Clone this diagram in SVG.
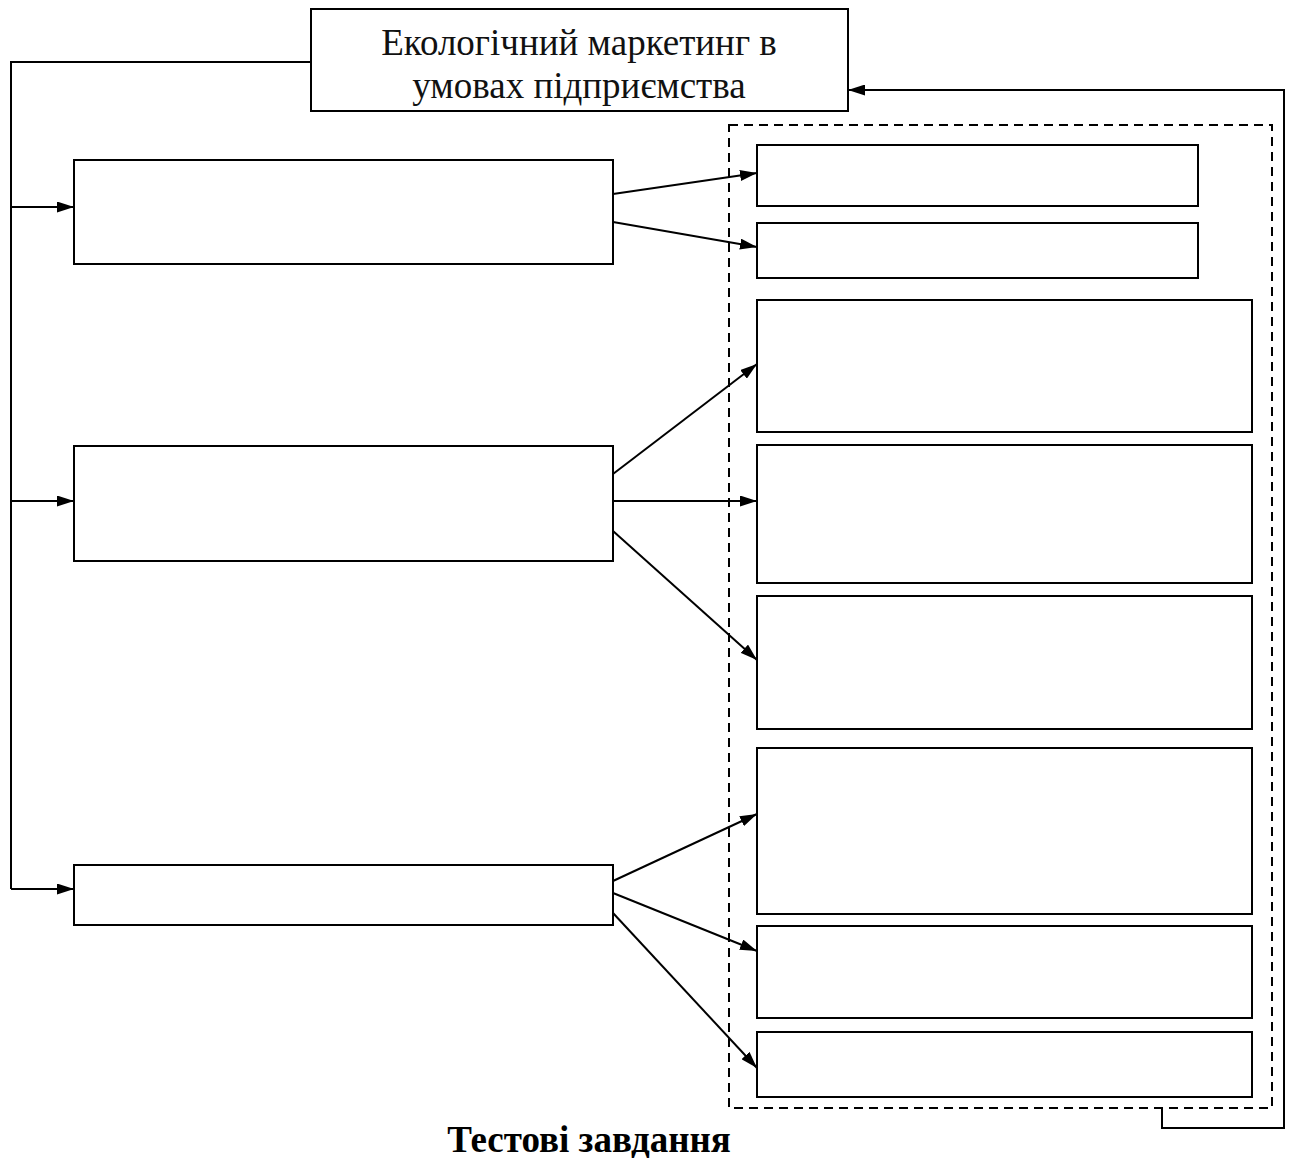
<svg xmlns="http://www.w3.org/2000/svg" width="1292" height="1158" viewBox="0 0 1292 1158">
<style>
.box{fill:#fff;stroke:#000;stroke-width:2}
.ln{fill:none;stroke:#000;stroke-width:2}
.dash{fill:none;stroke:#000;stroke-width:2;stroke-dasharray:9,6}
.t{font-family:"Liberation Serif",serif;font-size:37px;fill:#111;text-anchor:middle}
.tb{font-family:"Liberation Serif",serif;font-size:37px;font-weight:bold;fill:#000;text-anchor:middle}
</style>
<defs>
<marker id="ah" viewBox="0 0 17 11" refX="17" refY="5.5" markerWidth="17" markerHeight="11" markerUnits="userSpaceOnUse" orient="auto">
<path d="M0,0 L17,5.5 L0,11 Z" fill="#000"/>
</marker>
</defs>
<g id="container">
<rect class="dash" x="729" y="125" width="543" height="983"/>
</g>
<g id="top">
<rect class="box" x="311" y="9" width="537" height="102"/>
<text class="t" x="579" y="55">Екологічний маркетинг в</text>
<text class="t" x="579" y="98">умовах підприємства</text>
</g>
<g id="L1"><rect class="box" x="74" y="160" width="539" height="104"/></g>
<g id="L2"><rect class="box" x="74" y="446" width="539" height="115"/></g>
<g id="L3"><rect class="box" x="74" y="865" width="539" height="60"/></g>
<g id="R1"><rect class="box" x="757" y="145" width="441" height="61"/></g>
<g id="R2"><rect class="box" x="757" y="223" width="441" height="55"/></g>
<g id="R3"><rect class="box" x="757" y="300" width="495" height="132"/></g>
<g id="R4"><rect class="box" x="757" y="445" width="495" height="138"/></g>
<g id="R5"><rect class="box" x="757" y="596" width="495" height="133"/></g>
<g id="R6"><rect class="box" x="757" y="748" width="495" height="166"/></g>
<g id="R7"><rect class="box" x="757" y="926" width="495" height="92"/></g>
<g id="R8"><rect class="box" x="757" y="1032" width="495" height="65"/></g>
<g id="title"><text class="tb" x="589" y="1152">Тестові завдання</text></g>
<g id="connectors">
<polyline class="ln" points="311,62 11,62 11,889"/>
<line class="ln" x1="11" y1="207" x2="74" y2="207" marker-end="url(#ah)"/>
<line class="ln" x1="11" y1="501" x2="74" y2="501" marker-end="url(#ah)"/>
<line class="ln" x1="11" y1="889" x2="74" y2="889" marker-end="url(#ah)"/>
<line class="ln" x1="613" y1="194" x2="757" y2="173" marker-end="url(#ah)"/>
<line class="ln" x1="613" y1="222" x2="757" y2="247" marker-end="url(#ah)"/>
<line class="ln" x1="613" y1="474" x2="757" y2="364" marker-end="url(#ah)"/>
<line class="ln" x1="613" y1="501" x2="757" y2="501" marker-end="url(#ah)"/>
<line class="ln" x1="613" y1="531" x2="757" y2="660" marker-end="url(#ah)"/>
<line class="ln" x1="613" y1="881" x2="757" y2="814" marker-end="url(#ah)"/>
<line class="ln" x1="613" y1="893" x2="757" y2="951" marker-end="url(#ah)"/>
<line class="ln" x1="613" y1="913" x2="757" y2="1068" marker-end="url(#ah)"/>
<polyline class="ln" points="1162,1108 1162,1128 1284,1128 1284,90 848,90" marker-end="url(#ah)"/>
</g>
</svg>
